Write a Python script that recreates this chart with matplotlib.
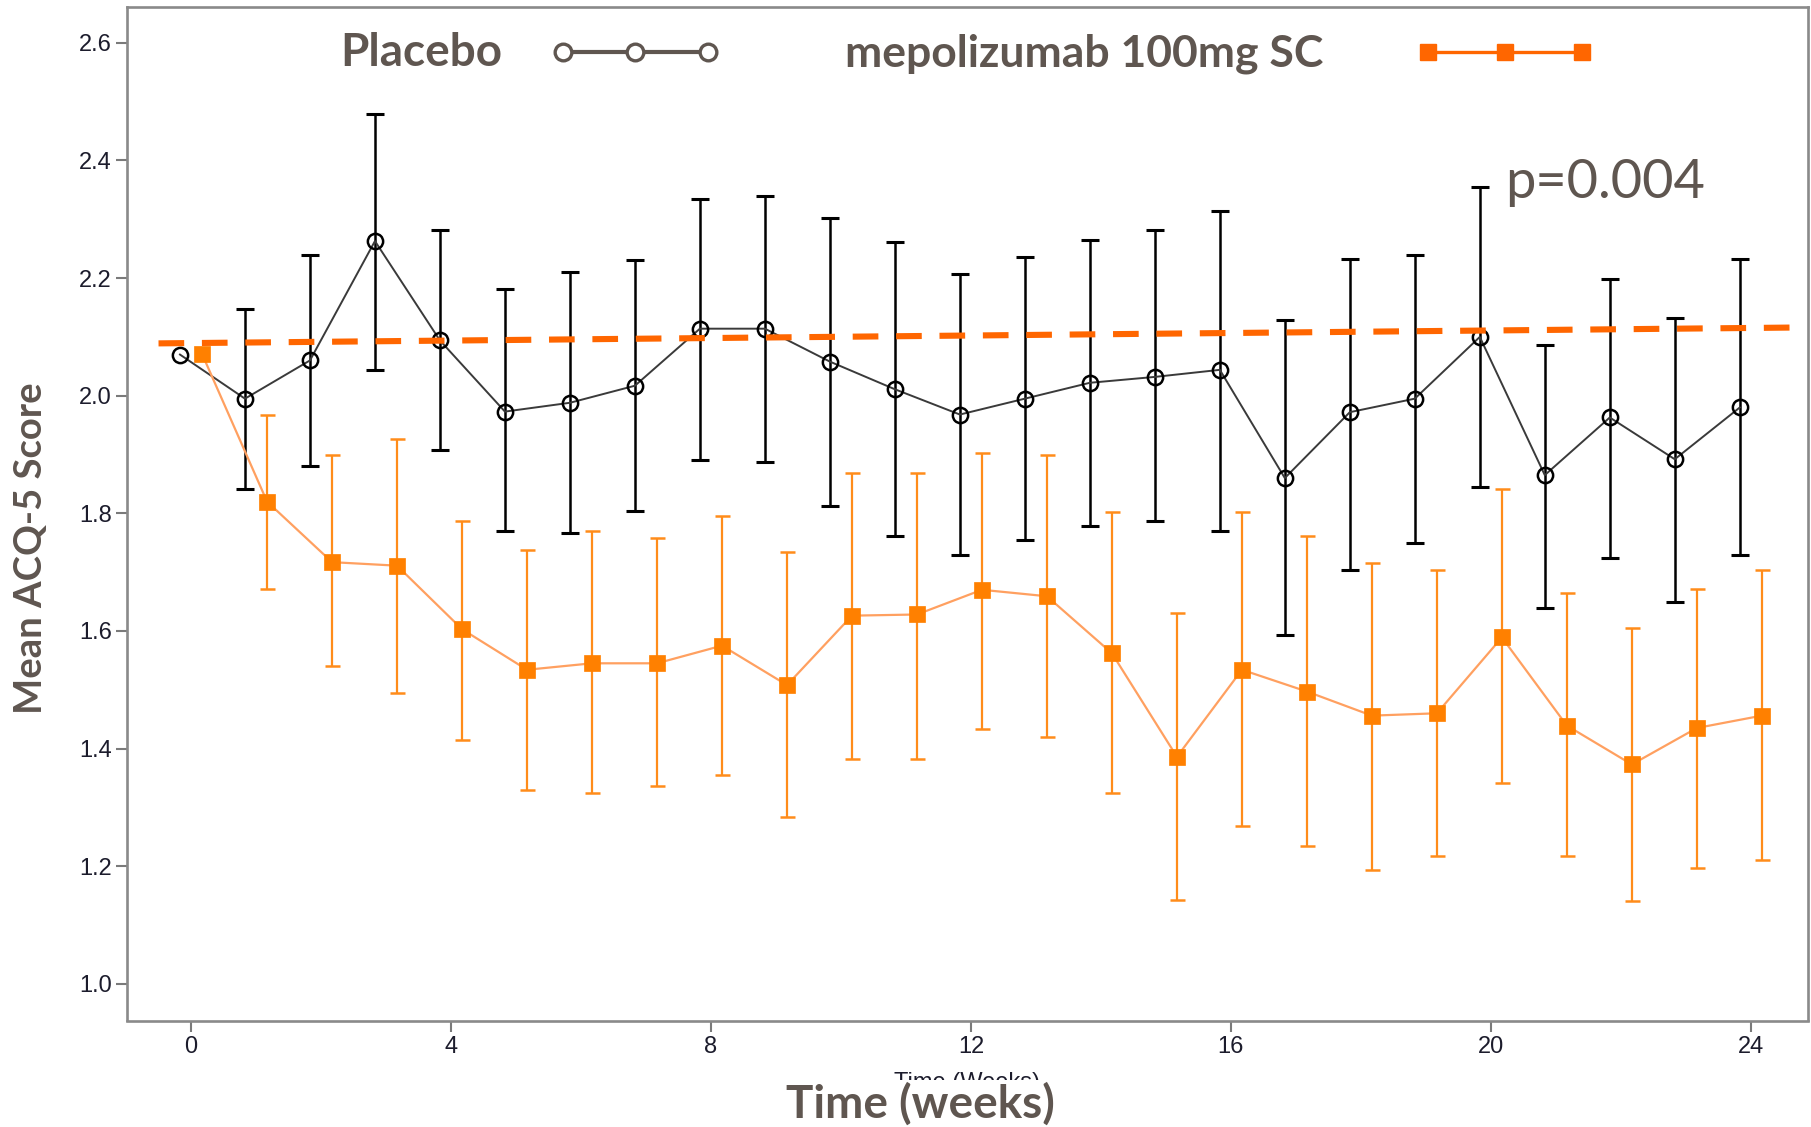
import numpy as np
import matplotlib
matplotlib.use("Agg")
import matplotlib.pyplot as plt
from matplotlib.lines import Line2D
from matplotlib.patches import Rectangle

# ---- data -------------------------------------------------------------
weeks = np.arange(0, 25)

placebo_mean = [2.070, 1.995, 2.060, 2.263, 2.094, 1.973, 1.988, 2.017, 2.114, 2.114,
                2.058, 2.011, 1.968, 1.995, 2.022, 2.032, 2.044, 1.860, 1.972, 1.995,
                2.100, 1.865, 1.963, 1.892, 1.980]
placebo_upper = [np.nan, 2.148, 2.240, 2.479, 2.281, 2.182, 2.210, 2.231, 2.334, 2.339,
                 2.302, 2.261, 2.207, 2.236, 2.265, 2.282, 2.314, 2.129, 2.232, 2.239,
                 2.355, 2.087, 2.199, 2.133, 2.232]
placebo_lower = [np.nan, 1.842, 1.881, 2.044, 1.908, 1.770, 1.766, 1.804, 1.891, 1.887,
                 1.812, 1.762, 1.729, 1.754, 1.779, 1.787, 1.770, 1.593, 1.704, 1.750,
                 1.845, 1.639, 1.724, 1.650, 1.729]

mepo_mean = [2.071, 1.820, 1.717, 1.711, 1.603, 1.534, 1.545, 1.545, 1.575, 1.508,
             1.626, 1.628, 1.670, 1.659, 1.562, 1.386, 1.534, 1.497, 1.456, 1.460,
             1.589, 1.439, 1.373, 1.435, 1.456]
mepo_upper = [np.nan, 1.968, 1.899, 1.927, 1.787, 1.737, 1.770, 1.758, 1.795, 1.734,
              1.869, 1.869, 1.902, 1.899, 1.803, 1.630, 1.803, 1.762, 1.716, 1.704,
              1.841, 1.664, 1.605, 1.672, 1.704]
mepo_lower = [np.nan, 1.672, 1.540, 1.494, 1.415, 1.329, 1.325, 1.337, 1.355, 1.284,
              1.383, 1.383, 1.433, 1.420, 1.325, 1.143, 1.268, 1.234, 1.193, 1.218,
              1.342, 1.218, 1.140, 1.197, 1.210]

# baseline trend reference (dashed)
trend_weeks = [-0.5, 24.72]
trend_score = [2.089, 2.116]

x_ticks = [0, 4, 8, 12, 16, 20, 24]
y_ticks = [1.0, 1.2, 1.4, 1.6, 1.8, 2.0, 2.2, 2.4, 2.6]

legend_labels = ["Placebo", "mepolizumab 100mg SC"]
p_value_text = "p=0.004"

# ---- styling ----------------------------------------------------------
W, H = 1811, 1127
TXT = "#5f5650"
TICK_TXT = "#1c1c2c"
ORANGE = "#ff8000"
ORANGE_BAR = "#ff8c1a"
ORANGE_LINE = "#ffa060"
ORANGE_DASH = "#ff6600"
DODGE = 0.17

fig = plt.figure(figsize=(W / 100, H / 100), dpi=100)
fig.patch.set_facecolor("white")

ax = fig.add_axes([127 / W, 1 - 1020.5 / H, (1808 - 127) / W, (1020.5 - 7) / H])
ax.set_xlim(-0.985, 24.88)
ax.set_ylim(0.9376, 2.661)

for s in ax.spines.values():
    s.set_color("#8a8a8a")
    s.set_linewidth(1.9)

ax.set_xticks(x_ticks)
ax.set_yticks(y_ticks)
ax.set_yticklabels([f"{v:.1f}" for v in y_ticks])
ax.tick_params(axis="both", direction="out", length=8, width=1.5, color="#7a7a7a",
               labelsize=17, labelcolor=TICK_TXT, pad=3)
for lab in ax.get_xticklabels() + ax.get_yticklabels():
    lab.set_fontfamily("Liberation Sans")

def bars(mean, lower, upper):
    m = np.asarray(mean, float)
    lo = np.asarray(lower, float)
    up = np.asarray(upper, float)
    ok = ~np.isnan(lo)
    return ok, m, np.vstack([m - lo, up - m])

# placebo
xp = weeks - DODGE
ok, m, err = bars(placebo_mean, placebo_lower, placebo_upper)
ax.errorbar(xp[ok], m[ok], yerr=err[:, ok], fmt="none", ecolor="black",
            elinewidth=1.8, capsize=6.2, capthick=2.2, zorder=3)
ax.plot(xp, placebo_mean, color="#3a3a3a", lw=1.4, zorder=4)
ax.plot(xp, placebo_mean, ls="none", marker="o", ms=11, mfc="none",
        mec="black", mew=1.8, zorder=5)

# mepolizumab
xm = weeks + DODGE
ok, m, err = bars(mepo_mean, mepo_lower, mepo_upper)
ax.errorbar(xm[ok], m[ok], yerr=err[:, ok], fmt="none", ecolor=ORANGE_BAR,
            elinewidth=1.6, capsize=5.4, capthick=1.8, zorder=3)
ax.plot(xm, mepo_mean, color=ORANGE_LINE, lw=1.6, zorder=4)
ax.plot(xm, mepo_mean, ls="none", marker="s", ms=11.5, mfc=ORANGE, mec=ORANGE,
        mew=0.5, zorder=5)

# dashed baseline trend
ax.plot(trend_weeks, trend_score, color=ORANGE_DASH, lw=4.4,
        dashes=(4.2, 2.9), solid_capstyle="butt", dash_capstyle="butt", zorder=6)

# ---- legend drawn as text + sample lines --------------------------------
def fx(px):
    return px / W

def fy(py):
    return 1 - py / H

bold = dict(family="Lato", weight="bold", color=TXT)
fig.text(fx(340), fy(66), legend_labels[0], ha="left", va="baseline", fontsize=33, **bold)
fig.text(fx(845), fy(66), legend_labels[1], ha="left", va="baseline", fontsize=32, **bold)

fig.add_artist(Line2D([fx(563), fx(708)], [fy(52), fy(52)], color=TXT, lw=3.0,
                      transform=fig.transFigure, zorder=5))
fig.add_artist(Line2D([fx(563), fx(635), fx(708)], [fy(52)] * 3, ls="none",
                      marker="o", ms=12, mfc="white", mec=TXT, mew=2.4,
                      transform=fig.transFigure, zorder=6))

fig.add_artist(Line2D([fx(1428), fx(1582)], [fy(52), fy(52)], color=ORANGE_DASH, lw=2.4,
                      transform=fig.transFigure, zorder=5))
fig.add_artist(Line2D([fx(1428), fx(1505), fx(1582)], [fy(52)] * 3, ls="none",
                      marker="s", ms=12, mfc=ORANGE_DASH, mec=ORANGE_DASH,
                      transform=fig.transFigure, zorder=6))

# p-value annotation
fig.text(fx(1505), fy(198), p_value_text, ha="left", va="baseline",
         family="Lato", weight="normal", color=TXT, fontsize=39)

# axis titles
fig.text(fx(31), fy(548), "Mean ACQ-5 Score", rotation=90, ha="center", va="center",
         fontsize=27.5, **bold)
fig.text(fx(967), fy(1072), "Time (Weeks)", ha="center", va="top",
         family="Liberation Sans", fontsize=17, color=TICK_TXT, zorder=1)
fig.add_artist(Rectangle((fx(770), 0), fx(1070) - fx(770), fy(1080), facecolor="white",
                         edgecolor="none", transform=fig.transFigure, zorder=2))
fig.text(fx(920), fy(1118), "Time (weeks)", ha="center", va="baseline", zorder=3,
         fontsize=33, **bold)

fig.savefig("out.png", dpi=100, facecolor="white")
